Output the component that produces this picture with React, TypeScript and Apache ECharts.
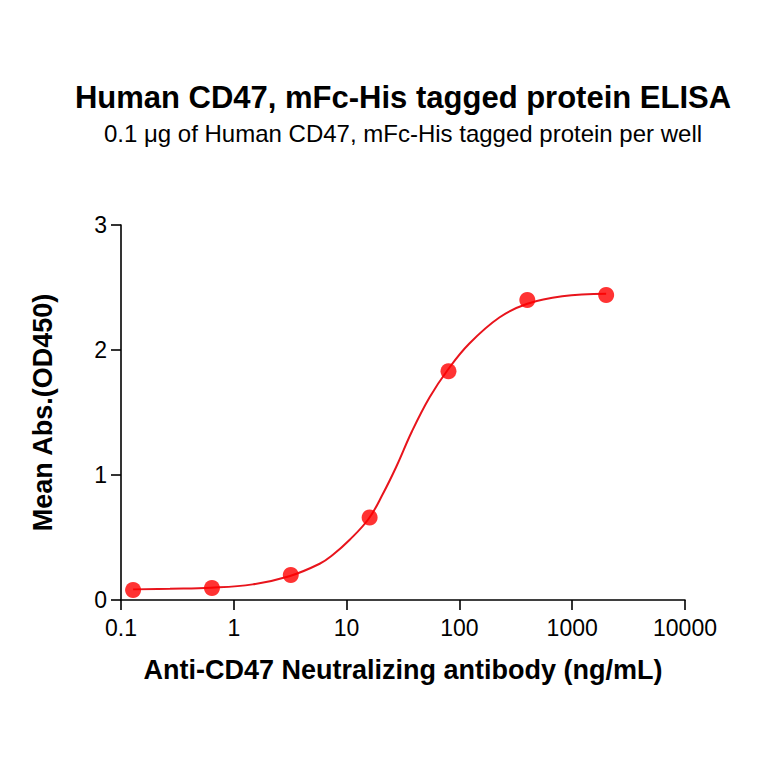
import React, { useEffect, useRef } from "react";
import * as echarts from "echarts";

const titleText = "Human CD47, mFc-His tagged protein ELISA";
const subtitleText = "0.1 μg of Human CD47, mFc-His tagged protein per well";
const xAxisTitle = "Anti-CD47 Neutralizing antibody (ng/mL)";
const yAxisTitle = "Mean Abs.(OD450)";

// measured points
const concentrations = [0.128, 0.64, 3.2, 16, 80, 400, 2000];
const meanAbs = [0.08, 0.096, 0.2, 0.66, 1.83, 2.4, 2.44];

// fitted curve
const curveX = [0.128, 0.272, 0.626, 1.47, 3.1, 5.77, 7.52, 10.6, 15.7, 21, 27.7, 38, 54.3, 78.7, 122, 226, 400, 816, 2000];
const curveY = [0.085, 0.09, 0.098, 0.125, 0.19, 0.29, 0.36, 0.48, 0.65, 0.85, 1.07, 1.35, 1.62, 1.84, 2.05, 2.26, 2.37, 2.43, 2.45];

const xTickLabels = ["0.1", "1", "10", "100", "1000", "10000"];
const yTickLabels = ["0", "1", "2", "3"];

const FONT = "'Liberation Sans', Arial, sans-serif";

export default function App() {
  const ref = useRef<HTMLDivElement>(null);
  useEffect(() => {
    if (!ref.current) return;
    const chart = echarts.init(ref.current, null, { renderer: "svg" });
    chart.setOption({
      animation: false,
      backgroundColor: "#ffffff",
      graphic: [
        {
          type: "text",
          x: 403,
          y: 97,
          style: {
            text: titleText,
            textAlign: "center",
            textVerticalAlign: "middle",
            fontFamily: FONT,
            fontSize: 31,
            fontWeight: "bold",
            fill: "#000",
          },
        },
        {
          type: "text",
          x: 403,
          y: 133,
          style: {
            text: subtitleText,
            textAlign: "center",
            textVerticalAlign: "middle",
            fontFamily: FONT,
            fontSize: 24,
            fontWeight: "normal",
            fill: "#000",
          },
        },
      ],
      grid: { left: 121, right: 79, top: 225, bottom: 164 },
      xAxis: {
        type: "log",
        logBase: 10,
        min: 0.1,
        max: 10000,
        name: xAxisTitle,
        nameLocation: "middle",
        nameGap: 56,
        nameTextStyle: { fontFamily: FONT, fontSize: 27, fontWeight: "bold", color: "#000" },
        axisLine: { show: true, lineStyle: { color: "#000", width: 1.6 } },
        axisTick: { show: true, length: 10, lineStyle: { color: "#000", width: 1.6 } },
        minorTick: { show: false },
        splitLine: { show: false },
        axisLabel: {
          fontFamily: FONT,
          fontSize: 23,
          color: "#000",
          margin: 16,
          formatter: (v: number) => xTickLabels[Math.round(Math.log10(v)) + 1] ?? "",
        },
      },
      yAxis: {
        type: "value",
        min: 0,
        max: 3,
        interval: 1,
        name: yAxisTitle,
        nameLocation: "middle",
        nameGap: 65,
        nameRotate: 90,
        nameTextStyle: { fontFamily: FONT, fontSize: 27, fontWeight: "bold", color: "#000" },
        axisLine: { show: true, lineStyle: { color: "#000", width: 1.6 } },
        axisTick: { show: true, length: 10, lineStyle: { color: "#000", width: 1.6 } },
        splitLine: { show: false },
        axisLabel: {
          fontFamily: FONT,
          fontSize: 23,
          color: "#000",
          margin: 14,
          formatter: (v: number) => yTickLabels[Math.round(v)] ?? "",
        },
      },
      series: [
        {
          type: "line",
          data: curveX.map((x, i) => [x, curveY[i]]),
          smooth: 0.4,
          showSymbol: false,
          symbol: "none",
          lineStyle: { color: "#e8141c", width: 2 },
          z: 2,
        },
        {
          type: "scatter",
          data: concentrations.map((x, i) => [x, meanAbs[i]]),
          symbol: "circle",
          symbolSize: 16,
          itemStyle: { color: "#ff0000" },
          z: 3,
        },
      ],
    });
    return () => chart.dispose();
  }, []);
  return <div ref={ref} style={{ width: 764, height: 764, position: "absolute", left: 0, top: 0 }} />;
}
